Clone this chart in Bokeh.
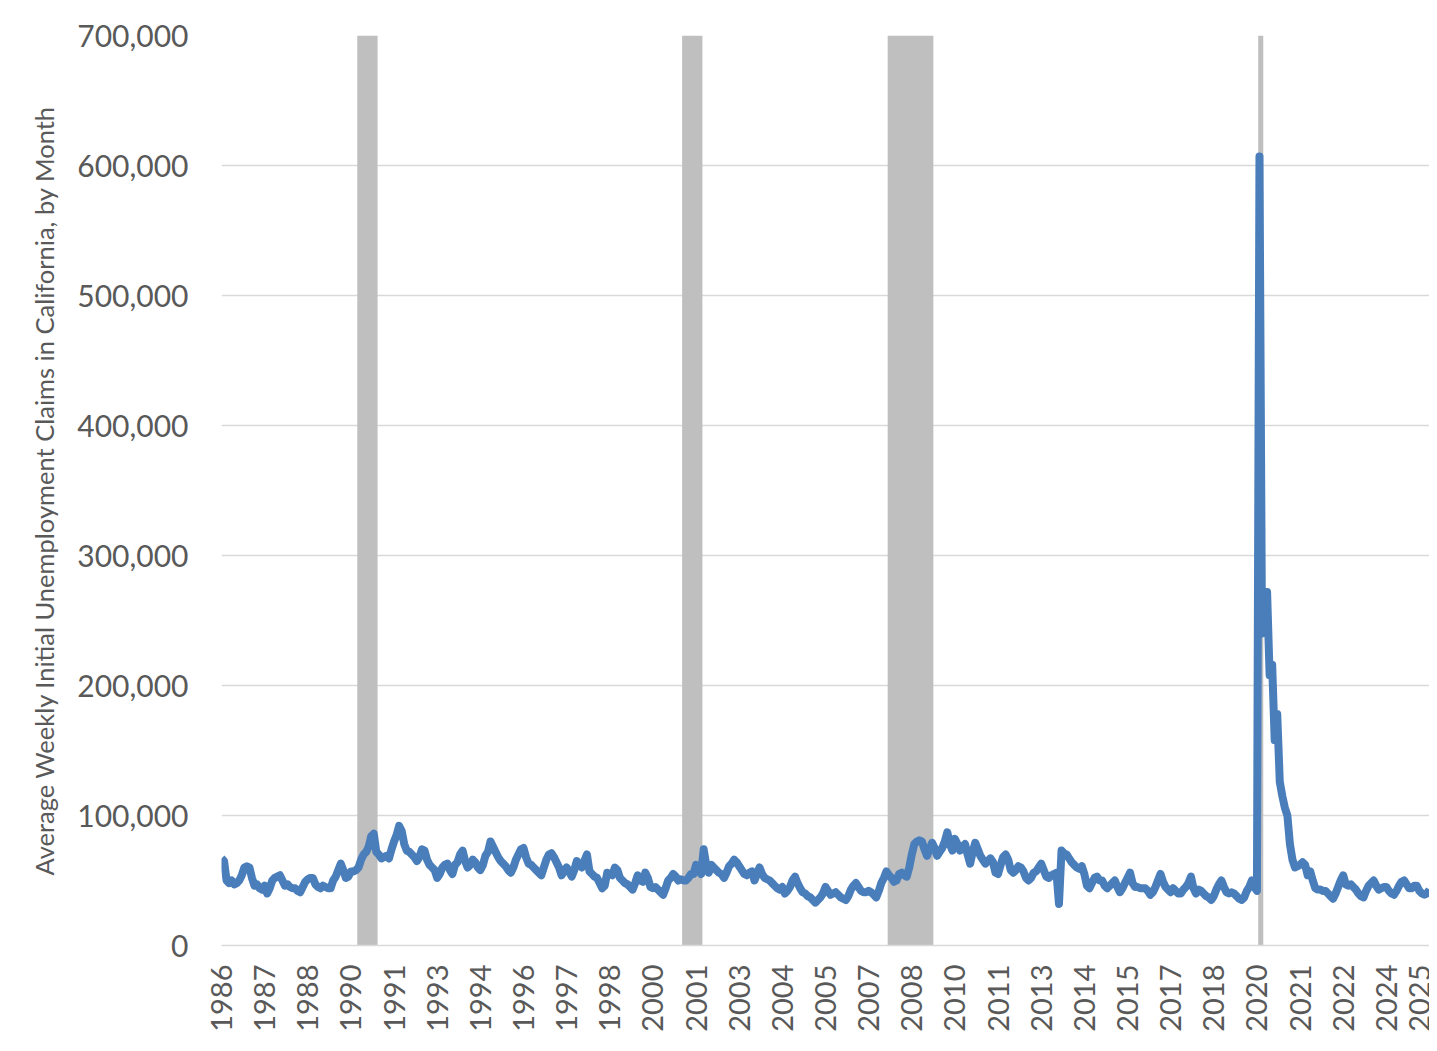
import math
from bokeh.plotting import figure
from bokeh.models import Range1d, FixedTicker, NumeralTickFormatter, ColumnDataSource
from bokeh.embed import file_html
from bokeh.resources import INLINE

# ---------------- data ----------------
start_year, start_month = 1986, 2   # first monthly observation

# average weekly initial claims, thousands, one value per month
claims_k = [
    67, 65, 50, 48, 50, 47, 48, 50, 54, 60, 61, 60,
    52, 46, 47, 44, 43, 46, 40, 44, 50, 52, 53, 54,
    50, 46, 47, 45, 44, 44, 42, 41, 45, 49, 51, 52,
    52, 47, 45, 44, 46, 45, 44, 44, 50, 53, 58, 63,
    58, 52, 53, 57, 57, 58, 60, 66, 70, 72, 76, 84,
    86, 72, 70, 67, 68, 69, 67, 74, 80, 85, 92, 88,
    78, 73, 72, 70, 68, 65, 68, 74, 73, 66, 62, 60,
    58, 52, 55, 60, 62, 63, 58, 55, 62, 64, 70, 73,
    65, 60, 62, 66, 64, 60, 58, 62, 69, 72, 80, 76,
    72, 68, 65, 63, 61, 58, 56, 60, 66, 70, 74, 75,
    68, 63, 62, 60, 58, 56, 54, 60, 66, 70, 71, 68,
    64, 60, 54, 57, 60, 57, 53, 58, 65, 62, 60, 65,
    70, 57, 55, 53, 52, 48, 44, 46, 56, 55, 54, 60,
    58, 52, 50, 48, 47, 45, 43, 48, 54, 50, 49, 56,
    52, 45, 44, 45, 43, 41, 39, 44, 50, 52, 55, 53,
    50, 51, 50, 50, 52, 55, 55, 62, 58, 55, 74, 62,
    56, 62, 60, 58, 56, 55, 52, 56, 61, 63, 66, 64,
    61, 58, 55, 54, 56, 57, 50, 55, 60, 55, 52, 51,
    50, 48, 46, 44, 43, 45, 40, 42, 45, 50, 53, 48,
    44, 41, 40, 38, 37, 35, 33, 35, 37, 40, 45, 42,
    39, 40, 41, 39, 37, 36, 35, 38, 43, 46, 48, 45,
    42, 41, 41, 42, 41, 39, 37, 42, 48, 52, 57, 54,
    52, 49, 50, 55, 56, 54, 53, 60, 70, 78, 80, 81,
    80, 74, 69, 74, 79, 75, 69, 72, 75, 80, 87, 78,
    73, 82, 78, 73, 76, 78, 70, 63, 72, 79, 74, 69,
    66, 63, 65, 67, 64, 56, 55, 62, 68, 70, 66, 58,
    56, 58, 61, 60, 57, 52, 50, 52, 56, 57, 60, 63,
    58, 53, 52, 54, 55, 56, 32, 73, 71, 70, 67, 64,
    62, 60, 59, 61, 55, 46, 44, 48, 52, 53, 50, 50,
    46, 44, 46, 48, 50, 45, 41, 44, 48, 52, 56, 48,
    45, 45, 44, 44, 44, 42, 39, 41, 45, 50, 55, 49,
    45, 43, 41, 44, 42, 40, 40, 43, 45, 48, 53, 44,
    40, 43, 42, 40, 38, 37, 35, 38, 43, 47, 50, 45,
    41, 40, 41, 40, 38, 36, 35, 37, 42, 45, 50, 45,
    42, 607, 240, 245, 272, 208, 216, 158, 178, 126, 115, 106,
    100, 78, 66, 60, 61, 62, 64, 62, 54, 57, 50, 44,
    43, 43, 42, 42, 40, 38, 36, 40, 45, 50, 54, 47,
    46, 47, 45, 43, 40, 38, 37, 42, 46, 48, 50, 46,
    43, 44, 45, 45, 42, 40, 39, 42, 46, 49, 50, 47,
    44, 44, 46, 46, 42, 40, 39, 40, 43,
]

tick_labels = ["1986", "1987", "1988", "1990", "1991", "1993", "1994", "1996",
               "1997", "1998", "2000", "2001", "2003", "2004", "2005", "2007",
               "2008", "2010", "2011", "2013", "2014", "2015", "2017", "2018",
               "2020", "2021", "2022", "2024", "2025"]
tick_step = 17  # months between category labels

recession_start = ["1990-08", "2001-04", "2008-01", "2020-03"]
recession_end = ["1991-03", "2001-11", "2009-06", "2020-04"]

y_ticks = [0, 100000, 200000, 300000, 400000, 500000, 600000, 700000]

title_text = "Average Weekly Initial Unemployment Claims in California, by Month"

# ---------------- build ----------------
def month_index(s):
    y, m = (int(v) for v in s.split("-"))
    return (y - start_year) * 12 + (m - start_month)

n = len(claims_k)
x = list(range(n))
y = [v * 1000 for v in claims_k]

ymax = y_ticks[-1]

p = figure(width=1429, height=1043, output_backend="svg", toolbar_location=None,
           x_range=Range1d(0, n - 1), y_range=Range1d(0, ymax),
           min_border_left=221, min_border_right=0, min_border_top=35,
           min_border_bottom=98)

rs = ColumnDataSource(dict(
    left=[month_index(s) - 0.5 for s in recession_start],
    right=[month_index(e) + 0.5 for e in recession_end],
))
p.quad(left="left", right="right", bottom=0, top=ymax, source=rs,
       fill_color="#bfbfbf", line_color=None)

p.line(x, y, line_width=8, line_color="#4a7ebb", line_join="round")

p.outline_line_color = None
p.background_fill_color = "white"
p.border_fill_color = "white"
p.xgrid.grid_line_color = None
p.ygrid.grid_line_color = "#d9d9d9"
p.ygrid.grid_line_width = 1.5
p.ygrid.level = "underlay"

ya = p.yaxis[0]
ya.ticker = FixedTicker(ticks=y_ticks)
ya.formatter = NumeralTickFormatter(format="0,0")
ya.axis_line_color = None
ya.major_tick_line_color = None
ya.minor_tick_line_color = None
ya.major_label_text_font = "Lato"
ya.major_label_text_font_size = "30px"
ya.major_label_text_color = "#595959"
ya.major_label_standoff = 27
ya.axis_label = title_text
ya.axis_label_text_font = "Lato"
ya.axis_label_text_font_style = "normal"
ya.axis_label_text_font_size = "25.5px"
ya.axis_label_text_color = "#595959"
ya.axis_label_standoff = 15

xa = p.xaxis[0]
xt = [k * tick_step for k in range(len(tick_labels))]
xa.ticker = FixedTicker(ticks=xt)
xa.major_label_overrides = {t: lab for t, lab in zip(xt, tick_labels)}
xa.major_label_orientation = math.pi / 2
xa.axis_line_color = "#d9d9d9"
xa.axis_line_width = 1.5
xa.major_tick_line_color = None
xa.minor_tick_line_color = None
xa.major_label_text_font = "Lato"
xa.major_label_text_font_size = "29px"
xa.major_label_text_color = "#595959"
xa.major_label_standoff = 13

open("out.html", "w").write(file_html(p, INLINE))
